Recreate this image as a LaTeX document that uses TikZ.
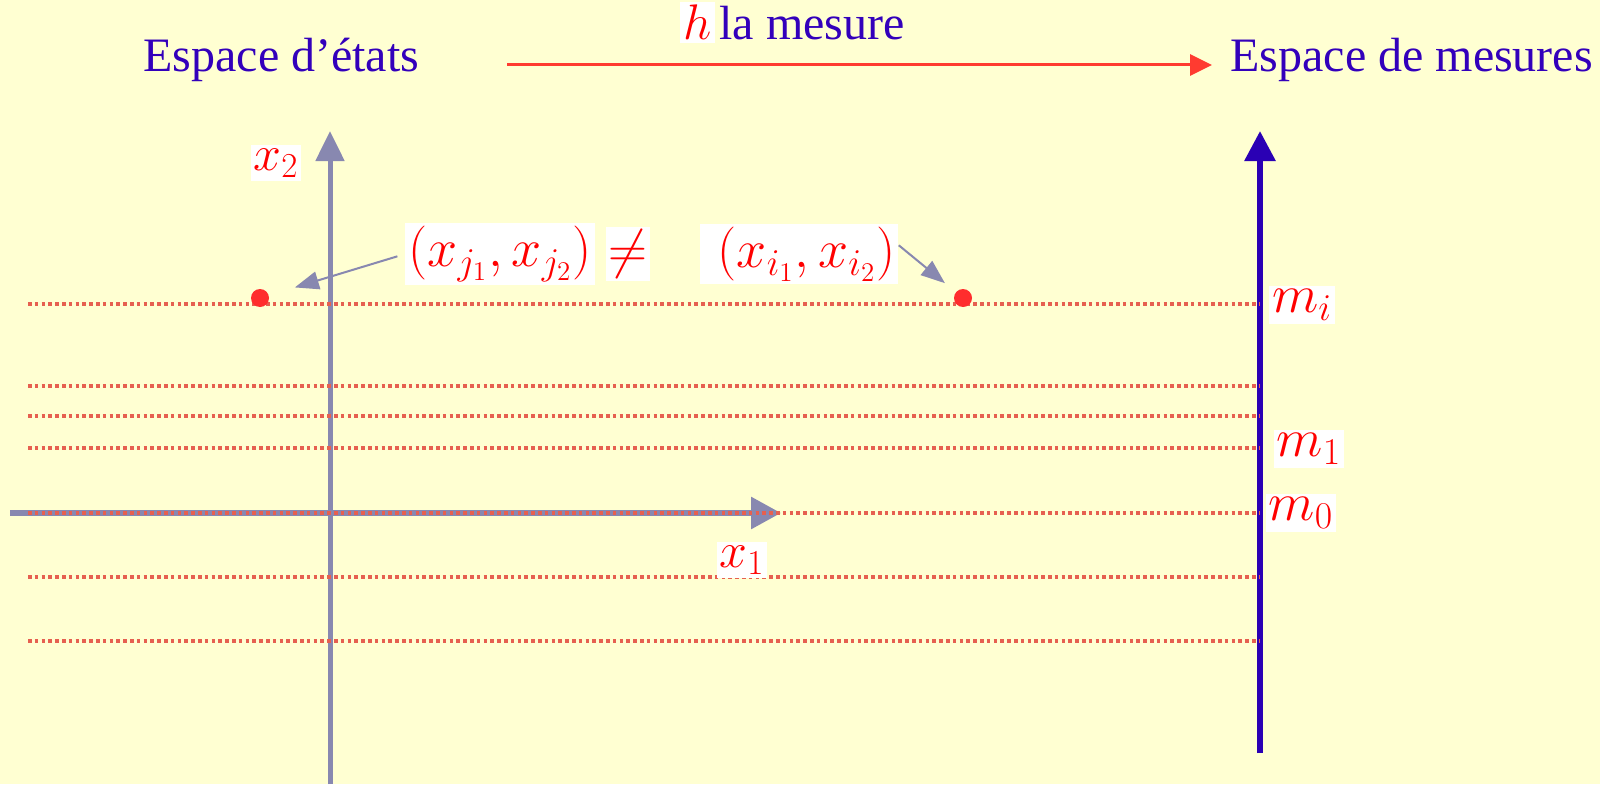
\RequirePackage{fix-cm}
\documentclass[tikz,border=0pt]{standalone}
\usepackage{amsmath}
\usepackage[no-math]{fontspec}
\setmainfont{Liberation Serif}
\usetikzlibrary{arrows.meta}

\definecolor{bgyellow}{RGB}{255,255,210}
\definecolor{titleblue}{RGB}{51,0,187}
\definecolor{axisgray}{RGB}{136,136,176}
\definecolor{measblue}{RGB}{42,0,180}
\definecolor{harrow}{RGB}{255,59,48}
\definecolor{levelred}{RGB}{230,96,80}
\definecolor{ptred}{RGB}{255,45,45}

\begin{document}
\begin{tikzpicture}[
  x=0.5pt, y=-0.5pt,
  title/.style={text=titleblue, font=\fontsize{24}{29}\selectfont, inner sep=0pt},
  mathlab/.style={fill=white, text=red, font=\fontsize{27}{32}\selectfont, inner sep=1.5pt},
  axlab/.style={mathlab, font=\fontsize{25}{30}\selectfont},
  level/.style={levelred, line width=1.8pt, dash pattern=on 1.8pt off 1.6pt},
  axe/.style={axisgray, line width=2.5pt, -{Triangle[length=15pt,width=14pt]}},
  callout/.style={axisgray, line width=1pt, -{Triangle[length=12pt,width=9pt]}},
  pt/.style={circle, fill=ptred, inner sep=0pt, minimum size=9pt}
]
% background, fixes the page too
\fill[bgyellow] (0,0) rectangle (1600,784);

% titles and the map h
\node[title, anchor=base west] (etats) at (143,72) {Espace d’états};
\node[title, anchor=base west] (mesures) at (1230,72) {Espace de mesures};
\node[title, anchor=base west] (hText) at (719,40) {la mesure};
\node[axlab, anchor=base east] (hsym) at ([xshift=-2pt]hText.base west) {$h$};
\coordinate (hfrom) at (507,65);
\coordinate (hto) at (1212,65);
\draw[harrow, line width=1.5pt, -{Triangle[length=11pt,width=10.5pt]}] (hfrom) -- (hto);

% state axes
\coordinate (x2foot) at (330,784);
\coordinate (x2tip) at (330,131);
\coordinate (x1foot) at (10,513);
\coordinate (x1tip) at (781,513);
\draw[axe] (x2foot) -- (x2tip);
\draw[axe, line width=3pt, -{Triangle[length=15pt,width=15.5pt]}] (x1foot) -- (x1tip);

% measure axis
\coordinate (mfoot) at (1260,753);
\coordinate (mtip) at (1260,131);
\draw[axe, measblue, line width=3pt, -{Triangle[length=15pt,width=15pt]}] (mfoot) -- (mtip);

% level lines of h
\foreach \y in {304,386,416,448,513,577,641} {
  \draw[level] (28,\y) -- (1260,\y);
}

% labels
\node[axlab] (x2lab) at (276,163) {$x_2$};
\node[axlab] (x1lab) at (742,560) {$x_1$};
\node[mathlab] (mi) at (1302,305) {$m_i$};
\node[mathlab] (m1) at (1309,449) {$m_1$};
\node[mathlab] (m0) at (1301,513) {$m_0$};

% two states, one measure
\node[mathlab] (pj) at (500,254) {$(x_{j_1},x_{j_2})$};
\node[mathlab] (neq) at (628,254) {$\neq$};
\node[mathlab] (pi) at (799,254) {$\;(x_{i_1},x_{i_2})$};
\node[pt] (dj) at (260,298) {};
\node[pt] (di) at (963,298) {};
\draw[callout, shorten <=4pt, shorten >=13.5pt] (pj.west) -- (dj);
\draw[callout, shorten >=7pt] (pi.5) -- (di);

\end{tikzpicture}
\end{document}
